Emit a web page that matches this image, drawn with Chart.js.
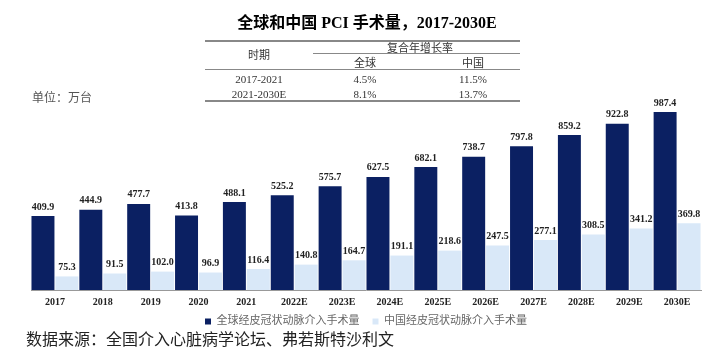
<!DOCTYPE html>
<html>
<head>
<meta charset="utf-8">
<script src="https://cdn.jsdelivr.net/npm/chart.js@4/dist/chart.umd.min.js"></script>
<style>
  body { margin: 0; background: #fff; }
  #wrap { position: relative; width: 703px; height: 354px; font-family: "Liberation Serif", "Noto Sans CJK SC", serif; }
  #myChart { position: absolute; left: 0; top: 0; }
  .t { position: absolute; white-space: nowrap; transform: translate(-50%, -50%); color: #333; font-size: 11px; }
  .ln { position: absolute; background: #888; }
</style>
</head>
<body>
<div id="wrap">
  <canvas id="myChart" width="703" height="354"></canvas>
  <div class="t" style="left:367px;top:21px;font-size:16px;font-weight:bold;color:#000;">全球和中国 PCI 手术量，2017-2030E</div>
  <div class="ln" style="left:205px;top:40px;width:315px;height:2px;"></div>
  <div class="t" style="left:259px;top:54px;">时期</div>
  <div class="t" style="left:420px;top:47px;">复合年增长率</div>
  <div class="ln" style="left:313px;top:53px;width:207px;height:1px;"></div>
  <div class="t" style="left:365px;top:62px;">全球</div>
  <div class="t" style="left:473px;top:62px;">中国</div>
  <div class="ln" style="left:205px;top:69px;width:315px;height:1px;"></div>
  <div class="t" style="left:259px;top:79px;">2017-2021</div>
  <div class="t" style="left:365px;top:79px;">4.5%</div>
  <div class="t" style="left:473px;top:79px;">11.5%</div>
  <div class="t" style="left:259px;top:94px;">2021-2030E</div>
  <div class="t" style="left:365px;top:94px;">8.1%</div>
  <div class="t" style="left:473px;top:94px;">13.7%</div>
  <div class="ln" style="left:205px;top:100px;width:315px;height:2px;"></div>
  <div class="t" style="left:62px;top:97px;font-size:12px;color:#555;">单位：万台</div>
  <div class="t" style="left:210px;top:338px;font-size:16px;color:#222;">数据来源：全国介入心脏病学论坛、弗若斯特沙利文</div>
</div>
<script>
// categories and values
var years = ["2017", "2018", "2019", "2020", "2021", "2022E", "2023E", "2024E", "2025E", "2026E", "2027E", "2028E", "2029E", "2030E"];
var globalPci = [409.9, 444.9, 477.7, 413.8, 488.1, 525.2, 575.7, 627.5, 682.1, 738.7, 797.8, 859.2, 922.8, 987.4];
var chinaPci = [75.3, 91.5, 102.0, 96.9, 116.4, 140.8, 164.7, 191.1, 218.6, 247.5, 277.1, 308.5, 341.2, 369.8];

// draw value labels on top of each bar
var valueLabels = {
  id: "valueLabels",
  afterDatasetsDraw: function (chart) {
    var ctx = chart.ctx;
    ctx.save();
    ctx.font = "bold 10px 'Liberation Serif', serif";
    ctx.fillStyle = "#222";
    ctx.textAlign = "center";
    ctx.textBaseline = "bottom";
    chart.data.datasets.forEach(function (ds, i) {
      chart.getDatasetMeta(i).data.forEach(function (bar, j) {
        ctx.fillText(ds.data[j].toFixed(1), bar.x, bar.y - 4);
      });
    });
    ctx.restore();
  },
};

var ctx = document.getElementById("myChart").getContext("2d");
var myChart = new Chart(ctx, {
  type: "bar",
  data: {
    labels: years,
    datasets: [
      {
        label: "全球经皮冠状动脉介入手术量",
        data: globalPci,
        backgroundColor: "#0b2062",
        barPercentage: 0.96,
        categoryPercentage: 1,
      },
      {
        label: "中国经皮冠状动脉介入手术量",
        data: chinaPci,
        backgroundColor: "#d9e8f8",
        barPercentage: 0.96,
        categoryPercentage: 1,
      },
    ],
  },
  options: {
    responsive: false,
    animation: false,
    layout: { padding: { top: 100, left: 31, right: 2, bottom: 17 } },
    plugins: {
      tooltip: { enabled: false },
      legend: {
        position: "bottom",
        labels: {
          boxWidth: 6,
          boxHeight: 6,
          padding: 2,
          color: "#666",
          font: { size: 11, family: "'Liberation Serif', 'Noto Sans CJK SC', serif" },
          // widen the gap after the first item
          generateLabels: function (chart) {
            var items = Chart.defaults.plugins.legend.labels.generateLabels(chart);
            items[0].text = items[0].text + "    ";
            return items;
          },
        },
      },
    },
    scales: {
      x: {
        grid: { display: false, drawTicks: false },
        border: { color: "#999", width: 1 },
        ticks: {
          padding: 6,
          color: "#222",
          maxRotation: 0,
          autoSkip: false,
          font: { size: 10, weight: "bold", family: "'Liberation Serif', serif" },
        },
      },
      y: {
        display: false,
        min: 0,
        max: 1054,
      },
    },
  },
  plugins: [valueLabels],
});
</script>
</body>
</html>
